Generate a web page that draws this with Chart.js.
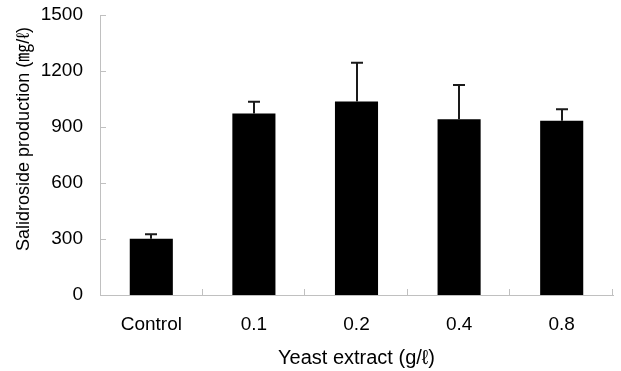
<!DOCTYPE html>
<html>
<head>
<meta charset="utf-8">
<script src="https://cdn.jsdelivr.net/npm/chart.js@4"></script>
<style>
  html, body { margin: 0; padding: 0; background: #fff; }
  #wrap { width: 621px; height: 371px; }
</style>
</head>
<body>
<div id="wrap"><canvas id="salChart"></canvas></div>
<script>
// categories and values
const labels = ['Control', '0.1', '0.2', '0.4', '0.8'];
const production = [302, 972, 1037, 942, 934];
const errors = [23, 63, 207, 183, 61];
const yTicks = [0, 300, 600, 900, 1200, 1500];

const axisColor = '#c0c0c0';
const fontFamily = '"Liberation Sans", Arial, "Noto Sans CJK KR", sans-serif';

// small tick marks pointing into the plot
const insideTicks = {
  id: 'insideTicks',
  afterDraw(chart) {
    const { ctx, scales: { x, y } } = chart;
    ctx.save();
    ctx.strokeStyle = axisColor;
    ctx.lineWidth = 1;
    ctx.beginPath();
    yTicks.forEach(v => {
      if (v === 0) return;
      const py = Math.round(y.getPixelForValue(v)) + 0.5;
      ctx.moveTo(x.left, py);
      ctx.lineTo(x.left + 6, py);
    });
    for (let i = 1; i <= labels.length; i++) {
      const px = Math.round(x.left + i * x.width / labels.length) - 0.5;
      ctx.moveTo(px, y.bottom);
      ctx.lineTo(px, y.bottom - 6);
    }
    ctx.stroke();
    ctx.restore();
  }
};

// upper error bars only
const errorBars = {
  id: 'errorBars',
  afterDatasetsDraw(chart) {
    const { ctx, scales: { y } } = chart;
    const meta = chart.getDatasetMeta(0);
    ctx.save();
    ctx.strokeStyle = '#1a1a1a';
    ctx.lineWidth = 2;
    meta.data.forEach((bar, i) => {
      const top = y.getPixelForValue(production[i] + errors[i]);
      const cx = Math.round(bar.x);
      ctx.beginPath();
      ctx.moveTo(cx, bar.y);
      ctx.lineTo(cx, top);
      ctx.moveTo(cx - 6, top);
      ctx.lineTo(cx + 6, top);
      ctx.stroke();
    });
    ctx.restore();
  }
};

new Chart(document.getElementById('salChart'), {
  type: 'bar',
  data: {
    labels: labels,
    datasets: [{
      data: production,
      backgroundColor: '#000',
      borderWidth: 0,
      barPercentage: 0.42,
      categoryPercentage: 1
    }]
  },
  options: {
    responsive: true,
    maintainAspectRatio: false,
    animation: false,
    layout: { padding: { top: 15, right: 8, left: 0, bottom: 0 } },
    plugins: { legend: { display: false }, tooltip: { enabled: false } },
    scales: {
      x: {
        grid: { display: false, drawTicks: false },
        border: { display: true, color: axisColor, width: 1 },
        ticks: { color: '#000', padding: 18, font: { family: fontFamily, size: 19 } },
        title: {
          display: true,
          text: 'Yeast extract (g/ℓ)',
          color: '#000',
          font: { family: fontFamily, size: 20 },
          padding: { top: 0, bottom: 1 }
        },
        afterFit(scale) {
          scale.height = 76;
          scale.paddingLeft = 0;
          scale.paddingRight = 0;
        }
      },
      y: {
        min: 0,
        max: 1500,
        afterBuildTicks(scale) { scale.ticks = yTicks.map(v => ({ value: v })); },
        grid: { display: false, drawTicks: false },
        border: { display: true, color: axisColor, width: 1 },
        ticks: {
          color: '#000',
          padding: 17,
          font: { family: fontFamily, size: 19 },
          callback: v => String(v)
        },
        title: {
          display: true,
          text: '\u2002\u2002\u2002 Salidroside production (㎎/ℓ)',
          color: '#000',
          font: { family: fontFamily, size: 18 },
          padding: { top: 13, bottom: 0 }
        },
        afterFit(scale) {
          scale.width = 100;
          scale.paddingTop = 0;
          scale.paddingBottom = 0;
        }
      }
    }
  },
  plugins: [insideTicks, errorBars]
});
</script>
</body>
</html>
